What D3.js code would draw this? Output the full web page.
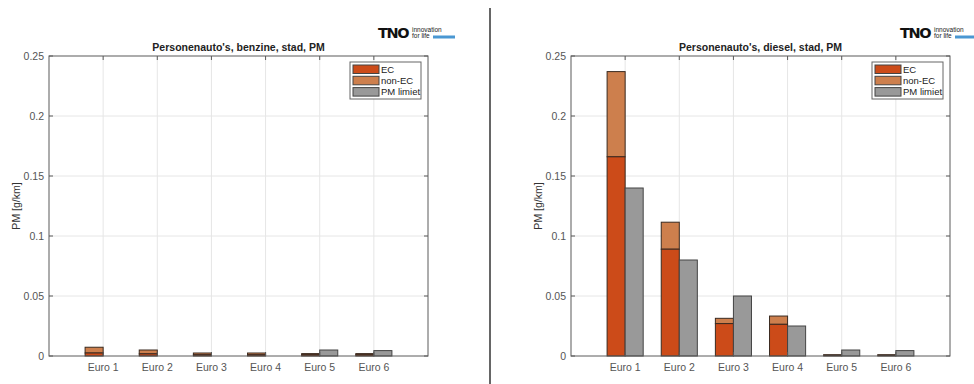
<!DOCTYPE html>
<html>
<head>
<meta charset="utf-8">
<script src="https://cdn.jsdelivr.net/npm/d3@7/dist/d3.min.js"></script>
<style>
  body { margin: 0; background: #fff; }
  svg { display: block; font-family: "Liberation Sans", Arial, sans-serif; }
</style>
</head>
<body>
<svg id="chart" width="974" height="384"></svg>
<script>
// categories and tick labels
const categories = ["Euro 1", "Euro 2", "Euro 3", "Euro 4", "Euro 5", "Euro 6"];
const yTicks = [0, 0.05, 0.1, 0.15, 0.2, 0.25];
const legendLabels = ["EC", "non-EC", "PM limiet"];

// benzine (petrol), g/km
const petrolEC = [0.0025, 0.0018, 0.001, 0.001, 0.001, 0.001];
const petrolNonEC = [0.0048, 0.0032, 0.0015, 0.0015, 0.001, 0.001];
const petrolLimit = [0, 0, 0, 0, 0.005, 0.0045];

// diesel, g/km
const dieselEC = [0.166, 0.089, 0.027, 0.0264, 0.0008, 0.0008];
const dieselNonEC = [0.071, 0.0225, 0.0044, 0.0069, 0.0002, 0.0002];
const dieselLimit = [0.14, 0.08, 0.05, 0.025, 0.005, 0.0045];

const colors = { ec: "#cc4b19", nonec: "#cd7f4d", limit: "#999999" };

const svg = d3.select("#chart");

// divider between the two panels
svg.append("line")
    .attr("x1", 490).attr("x2", 490)
    .attr("y1", 8).attr("y2", 384)
    .attr("stroke", "#666").attr("stroke-width", 2);

function drawPanel(left, title, ec, nonEc, limit) {
    const w = 379, h = 300, top = 56;
    const g = svg.append("g").attr("transform", `translate(${left},${top})`);

    const x = d3.scaleLinear().domain([0, categories.length + 1]).range([0, w]);
    const y = d3.scaleLinear().domain([0, 0.25]).range([h, 0]);
    const step = x(1) - x(0);
    const bw = step / 3;

    // grid
    g.append("g").selectAll("line").data(yTicks.slice(1, -1)).enter().append("line")
        .attr("x1", 0).attr("x2", w)
        .attr("y1", d => y(d)).attr("y2", d => y(d))
        .attr("stroke", "#e6e6e6");
    g.append("g").selectAll("line").data(categories).enter().append("line")
        .attr("x1", (d, i) => x(i + 1)).attr("x2", (d, i) => x(i + 1))
        .attr("y1", 0).attr("y2", h)
        .attr("stroke", "#e6e6e6");

    // bars
    const rows = categories.map((c, i) => ({ i: i, ec: ec[i], non: nonEc[i], lim: limit[i] }));
    const bars = g.append("g");
    bars.selectAll(".nonec").data(rows).enter().append("rect")
        .attr("x", d => x(d.i + 1) - bw)
        .attr("y", d => y(d.ec + d.non))
        .attr("width", bw)
        .attr("height", d => y(0) - y(d.non))
        .attr("fill", colors.nonec)
        .attr("stroke", "#3a2a20").attr("stroke-width", 1);
    bars.selectAll(".ec").data(rows).enter().append("rect")
        .attr("x", d => x(d.i + 1) - bw)
        .attr("y", d => y(d.ec))
        .attr("width", bw)
        .attr("height", d => y(0) - y(d.ec))
        .attr("fill", colors.ec)
        .attr("stroke", "#3a2a20").attr("stroke-width", 1);
    bars.selectAll(".lim").data(rows.filter(d => d.lim > 0)).enter().append("rect")
        .attr("x", d => x(d.i + 1))
        .attr("y", d => y(d.lim))
        .attr("width", bw)
        .attr("height", d => y(0) - y(d.lim))
        .attr("fill", colors.limit)
        .attr("stroke", "#444").attr("stroke-width", 1);

    // box
    g.append("rect")
        .attr("width", w).attr("height", h)
        .attr("fill", "none").attr("stroke", "#5a5a5a").attr("stroke-width", 1);

    // inward ticks on all four sides
    const tk = g.append("g").attr("stroke", "#5a5a5a");
    yTicks.forEach(t => {
        tk.append("line").attr("x1", 0).attr("x2", 4).attr("y1", y(t)).attr("y2", y(t));
        tk.append("line").attr("x1", w).attr("x2", w - 4).attr("y1", y(t)).attr("y2", y(t));
    });
    categories.forEach((c, i) => {
        tk.append("line").attr("x1", x(i + 1)).attr("x2", x(i + 1)).attr("y1", h).attr("y2", h - 4);
        tk.append("line").attr("x1", x(i + 1)).attr("x2", x(i + 1)).attr("y1", 0).attr("y2", 4);
    });

    // tick labels
    g.append("g").selectAll("text").data(yTicks).enter().append("text")
        .attr("x", -5).attr("y", d => y(d)).attr("dy", "0.35em")
        .attr("text-anchor", "end")
        .attr("font-size", 10.5).attr("fill", "#555")
        .text(d => d3.format("~g")(d));
    g.append("g").selectAll("text").data(categories).enter().append("text")
        .attr("x", (d, i) => x(i + 1)).attr("y", h + 15)
        .attr("text-anchor", "middle")
        .attr("font-size", 10.5).attr("fill", "#555")
        .text(d => d);

    // y label
    g.append("text")
        .attr("transform", `translate(-29,${h / 2}) rotate(-90)`)
        .attr("text-anchor", "middle")
        .attr("font-size", 10.5).attr("fill", "#333")
        .text("PM [g/km]");

    // title
    g.append("text")
        .attr("x", w / 2).attr("y", -5)
        .attr("text-anchor", "middle")
        .attr("font-size", 10.5).attr("font-weight", "bold").attr("fill", "#222")
        .text(title);

    // legend
    const lg = g.append("g").attr("transform", `translate(${w - 78},6)`);
    lg.append("rect").attr("width", 71).attr("height", 37)
        .attr("fill", "#fff").attr("stroke", "#666");
    const lc = [colors.ec, colors.nonec, colors.limit];
    legendLabels.forEach((l, i) => {
        lg.append("rect")
            .attr("x", 3).attr("y", 3 + i * 11.3)
            .attr("width", 26).attr("height", 8.5)
            .attr("fill", lc[i]).attr("stroke", "#444");
        lg.append("text")
            .attr("x", 31).attr("y", 7.5 + i * 11.3).attr("dy", "0.35em")
            .attr("font-size", 9.5).attr("fill", "#222")
            .text(l);
    });

    // TNO logo
    const logo = svg.append("g").attr("transform", `translate(${left + w - 50},26)`);
    logo.append("text")
        .attr("x", 0).attr("y", 12)
        .attr("font-size", 14.5).attr("font-weight", "900")
        .attr("letter-spacing", -1.4).attr("fill", "#111")
        .attr("font-family", "'DejaVu Sans', sans-serif")
        .text("TNO");
    logo.append("text").attr("x", 34).attr("y", 6)
        .attr("font-size", 6.5).attr("fill", "#222").text("innovation");
    logo.append("text").attr("x", 34).attr("y", 11.5)
        .attr("font-size", 6.5).attr("fill", "#222").text("for life");
    logo.append("rect").attr("x", 55).attr("y", 9.5)
        .attr("width", 22).attr("height", 3).attr("fill", "#4a97d2");
}

drawPanel(49, "Personenauto's, benzine, stad, PM", petrolEC, petrolNonEC, petrolLimit);
drawPanel(571, "Personenauto's, diesel, stad, PM", dieselEC, dieselNonEC, dieselLimit);
</script>
</body>
</html>
